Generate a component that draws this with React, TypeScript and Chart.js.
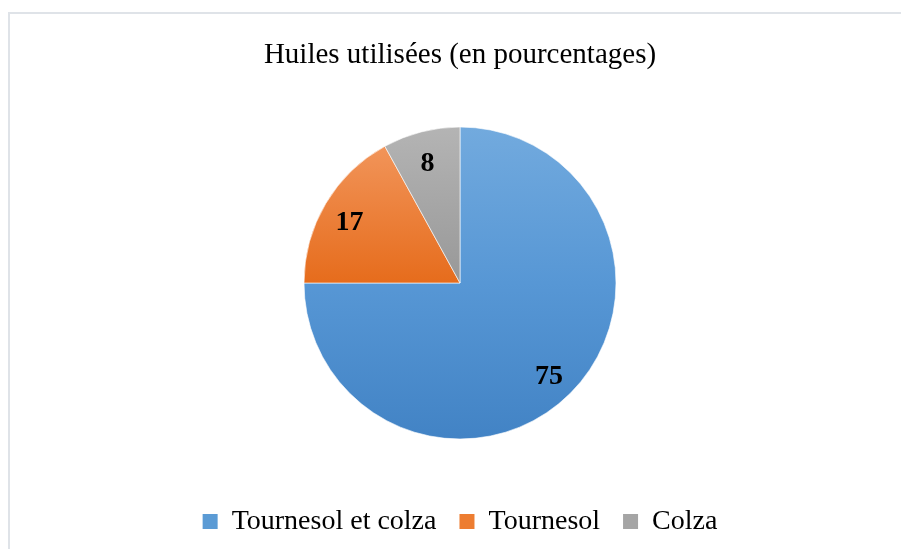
import React, { useEffect, useRef } from "react";
import { Chart, registerables } from "chart.js";

Chart.register(...registerables);

const titleText = "Huiles utilisées (en pourcentages)";
const categories = ["Tournesol et colza", "Tournesol", "Colza"];
const values = [75, 17, 8];
const gradientStops = [
  ["#72aade", "#5797d5", "#4283c5"],
  ["#f39a62", "#e66c1c", "#d05c10"],
  ["#b4b4b4", "#989898", "#858585"],
];
const legendColors = ["#5b9bd5", "#ed7d31", "#a5a5a5"];

const PIE_RADIUS = 156;

const labelPlugin = {
  id: "sliceLabels",
  afterDatasetsDraw(chart: any) {
    const ctx = chart.ctx;
    const meta = chart.getDatasetMeta(0);
    ctx.save();
    ctx.font = "bold 28px 'Liberation Serif', 'Times New Roman', serif";
    ctx.fillStyle = "#000000";
    ctx.textAlign = "center";
    ctx.textBaseline = "middle";
    meta.data.forEach((arc: any, i: number) => {
      const { x, y, startAngle, endAngle, outerRadius } = arc.getProps(
        ["x", "y", "startAngle", "endAngle", "outerRadius"],
        true
      );
      const mid = (startAngle + endAngle) / 2;
      const r = outerRadius * 0.815;
      ctx.fillText(String(values[i]), x + Math.cos(mid) * r - 1, y + Math.sin(mid) * r + 4);
    });
    ctx.restore();
  },
};

export default function App() {
  const canvasRef = useRef<HTMLCanvasElement | null>(null);

  useEffect(() => {
    if (!canvasRef.current) return;
    const chart = new Chart(canvasRef.current, {
      type: "pie",
      data: {
        labels: categories,
        datasets: [
          {
            data: values,
            radius: PIE_RADIUS,
            borderColor: "rgba(255,255,255,0.6)",
            borderWidth: 1,
            backgroundColor: (c: any) => {
              const ch = c.chart;
              const area = ch.chartArea;
              const stops = gradientStops[c.dataIndex % gradientStops.length];
              if (!area) return stops[1];
              const cy = (area.top + area.bottom) / 2;
              const g = ch.ctx.createLinearGradient(0, cy - PIE_RADIUS, 0, cy + PIE_RADIUS);
              g.addColorStop(0, stops[0]);
              g.addColorStop(0.5, stops[1]);
              g.addColorStop(1, stops[2]);
              return g;
            },
          } as any,
        ],
      },
      options: {
        animation: false,
        responsive: true,
        maintainAspectRatio: false,
        layout: { padding: { left: 19, right: 0, top: 0, bottom: 3.5 } },
        plugins: {
          tooltip: { enabled: false },
          title: {
            display: true,
            text: titleText,
            color: "#000000",
            font: { family: "'Liberation Serif', 'Times New Roman', serif", size: 29, weight: "normal", lineHeight: 1.2 },
            padding: { top: 38, bottom: 8.7 },
          },
          legend: {
            display: true,
            position: "bottom",
            labels: {
              color: "#000000",
              boxWidth: 15,
              boxHeight: 15,
              padding: 23,
              font: { family: "'Liberation Serif', 'Times New Roman', serif", size: 28 },
              generateLabels: (ch: any) =>
                categories.map((t, i) => ({
                  text: t,
                  fillStyle: legendColors[i],
                  strokeStyle: legendColors[i],
                  lineWidth: 0,
                  hidden: false,
                  index: i,
                })),
            },
          },
        },
      } as any,
      plugins: [labelPlugin],
    });
    return () => chart.destroy();
  }, []);

  return (
    <div style={{ position: "fixed", left: 0, top: 0, width: 901, height: 549, background: "#ffffff" }}>
      <div
        style={{
          position: "absolute",
          left: 8,
          top: 12,
          width: 893,
          height: 537,
          boxSizing: "border-box",
          borderTop: "2px solid #dfe3e8",
          borderLeft: "2px solid #dfe3e8",
        }}
      />
      <div style={{ position: "absolute", left: 0, top: 0, width: 901, height: 549 }}>
        <canvas ref={canvasRef} />
      </div>
    </div>
  );
}
